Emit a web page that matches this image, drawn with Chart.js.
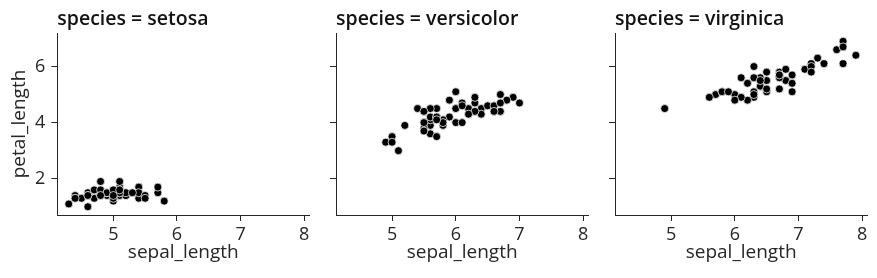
<!DOCTYPE html>
<html>
<head>
<meta charset="utf-8">
<script src="https://cdn.jsdelivr.net/npm/chart.js@4"></script>
<style>
  html, body { margin: 0; padding: 0; background: #fff; }
  #wrap { position: relative; width: 877px; height: 278px; }
  canvas { position: absolute; top: 0; }
</style>
</head>
<body>
<div id="wrap">
  <canvas id="c1" style="left:0px"></canvas>
  <canvas id="c2" style="left:316px"></canvas>
  <canvas id="c3" style="left:595px"></canvas>
</div>
<script>
var setosaSepal = [5.1,4.9,4.7,4.6,5.0,5.4,4.6,5.0,4.4,4.9,5.4,4.8,4.8,4.3,5.8,5.7,5.4,5.1,5.7,5.1,5.4,5.1,4.6,5.1,4.8,5.0,5.0,5.2,5.2,4.7,4.8,5.4,5.2,5.5,4.9,5.0,5.5,4.9,4.4,5.1,5.0,4.5,4.4,5.0,5.1,4.8,5.1,4.6,5.3,5.0];
var setosaPetal = [1.4,1.4,1.3,1.5,1.4,1.7,1.4,1.5,1.4,1.5,1.5,1.6,1.4,1.1,1.2,1.5,1.3,1.4,1.7,1.5,1.7,1.5,1.0,1.7,1.9,1.6,1.6,1.5,1.4,1.6,1.6,1.5,1.5,1.4,1.5,1.2,1.3,1.5,1.3,1.5,1.3,1.3,1.3,1.6,1.9,1.4,1.6,1.4,1.5,1.4];

var versicolorSepal = [7.0,6.4,6.9,5.5,6.5,5.7,6.3,4.9,6.6,5.2,5.0,5.9,6.0,6.1,5.6,6.7,5.6,5.8,6.2,5.6,5.9,6.1,6.3,6.1,6.4,6.6,6.8,6.7,6.0,5.7,5.5,5.5,5.8,6.0,5.4,6.0,6.7,6.3,5.6,5.5,5.5,6.1,5.8,5.0,5.6,5.7,5.7,6.2,5.1,5.7];
var versicolorPetal = [4.7,4.5,4.9,4.0,4.6,4.5,4.7,3.3,4.6,3.9,3.5,4.2,4.0,4.7,3.6,4.4,4.5,4.1,4.5,3.9,4.8,4.0,4.9,4.7,4.3,4.4,4.8,5.0,4.5,3.5,3.8,3.7,3.9,5.1,4.5,4.5,4.7,4.4,4.1,4.0,4.4,4.6,4.0,3.3,4.2,4.2,4.2,4.3,3.0,4.1];

var virginicaSepal = [6.3,5.8,7.1,6.3,6.5,7.6,4.9,7.3,6.7,7.2,6.5,6.4,6.8,5.7,5.8,6.4,6.5,7.7,7.7,6.0,6.9,5.6,7.7,6.3,6.7,7.2,6.2,6.1,6.4,7.2,7.4,7.9,6.4,6.3,6.1,7.7,6.3,6.4,6.0,6.9,6.7,6.9,5.8,6.8,6.7,6.7,6.3,6.5,6.2,5.9];
var virginicaPetal = [6.0,5.1,5.9,5.6,5.8,6.6,4.5,6.3,5.8,6.1,5.1,5.3,5.5,5.0,5.1,5.3,5.5,6.7,6.9,5.0,5.7,4.9,6.7,4.9,5.7,6.0,4.8,4.9,5.6,5.8,6.1,6.4,5.6,5.1,5.6,6.1,5.6,5.5,4.8,5.4,5.6,5.1,5.1,5.9,5.7,5.2,5.0,5.2,5.4,5.1];

var xTicks = [5, 6, 7, 8];
var yTicks = [2, 4, 6];
var xRange = [4.12, 8.08];
var yRange = [0.705, 7.195];

var textColor = '#262626';
var fontFamily = "'Open Sans', sans-serif";

function makeChart(id, width, sepal, petal, title, showYLabels, yAxisWidth, padRight) {
    var canvas = document.getElementById(id);
    canvas.width = width;
    canvas.height = 278;
    canvas.style.width = width + 'px';
    canvas.style.height = '278px';

    var points = [];
    sepal.forEach(function (s, i) {
        points.push({ x: s, y: petal[i] });
    });

    return new Chart(canvas, {
        type: 'scatter',
        data: {
            datasets: [{
                data: points,
                backgroundColor: '#000000',
                borderColor: '#ffffff',
                borderWidth: 0.75,
                pointRadius: 4,
                pointHoverRadius: 4
            }]
        },
        options: {
            responsive: false,
            animation: false,
            layout: { padding: { left: 0, top: 0, bottom: 0, right: padRight } },
            plugins: {
                legend: { display: false },
                tooltip: { enabled: false },
                title: {
                    display: true,
                    text: title,
                    align: 'start',
                    fullSize: false,
                    color: '#111111',
                    font: { family: fontFamily, size: 19.5, weight: '600', lineHeight: 1.2 },
                    padding: { top: 7.3, bottom: 2.3 }
                }
            },
            scales: {
                x: {
                    type: 'linear',
                    min: xRange[0],
                    max: xRange[1],
                    afterBuildTicks: function (scale) {
                        scale.ticks = xTicks.map(function (v) { return { value: v }; });
                    },
                    afterFit: function (scale) { scale.height = 63; },
                    grid: { drawOnChartArea: false, drawTicks: true, tickLength: 6, color: textColor, tickWidth: 1 },
                    border: { display: true, color: textColor, width: 1 },
                    ticks: {
                        autoSkip: false, maxRotation: 0, padding: 3, color: textColor,
                        font: { family: fontFamily, size: 18 }
                    },
                    title: {
                        display: true, text: 'sepal_length', color: textColor,
                        font: { family: fontFamily, size: 19, lineHeight: 1.2 },
                        padding: { top: 0, bottom: 13.6 }
                    }
                },
                y: {
                    type: 'linear',
                    min: yRange[0],
                    max: yRange[1],
                    afterBuildTicks: function (scale) {
                        scale.ticks = yTicks.map(function (v) { return { value: v }; });
                    },
                    afterFit: function (scale) { scale.width = yAxisWidth; },
                    grid: { drawOnChartArea: false, drawTicks: true, tickLength: 6, color: textColor, tickWidth: 1 },
                    border: { display: true, color: textColor, width: 1 },
                    ticks: {
                        padding: 6, color: textColor,
                        font: { family: fontFamily, size: 18 },
                        callback: function (v) { return showYLabels ? v : ''; }
                    },
                    title: {
                        display: showYLabels, text: 'petal_length', color: textColor,
                        font: { family: fontFamily, size: 19, lineHeight: 1.2 },
                        padding: { top: 8.6, bottom: 0 }
                    }
                }
            }
        }
    });
}

makeChart('c1', 320, setosaSepal, setosaPetal, 'species = setosa', true, 57.3, 10.7);
makeChart('c2', 282, versicolorSepal, versicolorPetal, 'species = versicolor', false, 20, 9.7);
makeChart('c3', 282, virginicaSepal, virginicaPetal, 'species = virginica', false, 20, 9.7);
</script>
</body>
</html>
